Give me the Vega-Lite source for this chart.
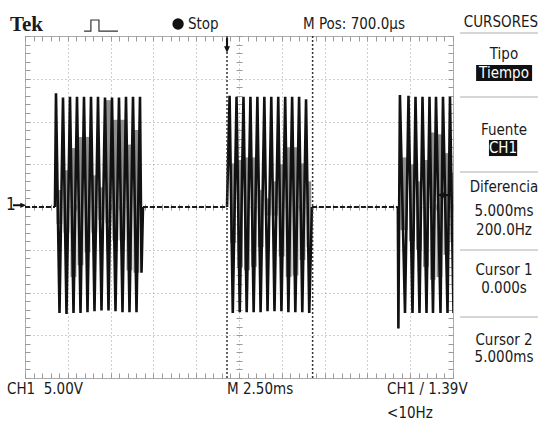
{
  "$schema": "https://vega.github.io/schema/vega-lite/v6.json",
  "width": 428,
  "height": 342,
  "autosize": {"type": "none"},
  "padding": {"left": 25, "top": 36, "right": 89, "bottom": 44},
  "background": "white",
  "config": {
    "view": {"stroke": "#b0b0b0", "strokeWidth": 1},
    "axis": {"labels": false, "domain": false, "ticks": false, "grid": false, "title": null},
    "text": {"font": "DejaVu Sans Condensed", "fontSize": 15, "color": "#1a1a1a"}
  },
  "resolve": {"axis": {"x": "independent", "y": "independent"}},
  "datasets": {
    "fill": [
      {"b": 1, "t": -9.96, "t1": -9.62, "v": 2.0, "v2": -2.0},
      {"b": 1, "t": -9.55, "t1": -9.21, "v": 4.3, "v2": -3.0},
      {"b": 1, "t": -9.14, "t1": -8.80, "v": 6.9, "v2": -8.2},
      {"b": 1, "t": -8.73, "t1": -8.39, "v": 8.2, "v2": -6.8},
      {"b": 1, "t": -8.32, "t1": -7.98, "v": 8.2, "v2": -5.3},
      {"b": 1, "t": -7.92, "t1": -7.58, "v": 3.7, "v2": -3.0},
      {"b": 1, "t": -7.51, "t1": -7.17, "v": 2.3, "v2": -1.5},
      {"b": 1, "t": -7.10, "t1": -6.76, "v": 12.5, "v2": -1.9},
      {"b": 1, "t": -6.69, "t1": -6.35, "v": 10.2, "v2": -3.9},
      {"b": 1, "t": -6.28, "t1": -5.94, "v": 10.2, "v2": -3.9},
      {"b": 1, "t": -5.87, "t1": -5.53, "v": 7.3, "v2": -7.4},
      {"b": 1, "t": -5.46, "t1": -5.12, "v": 9.0, "v2": -7.7},
      {"b": 2, "t": 0.18, "t1": 0.52, "v": 5.1, "v2": -4.2},
      {"b": 2, "t": 0.59, "t1": 0.93, "v": 5.5, "v2": -7.0},
      {"b": 2, "t": 0.99, "t1": 1.33, "v": 5.8, "v2": -7.4},
      {"b": 2, "t": 1.40, "t1": 1.74, "v": 5.8, "v2": -7.0},
      {"b": 2, "t": 1.80, "t1": 2.14, "v": 2.0, "v2": -4.7},
      {"b": 2, "t": 2.21, "t1": 2.55, "v": 1.0, "v2": -1.0},
      {"b": 2, "t": 2.62, "t1": 2.96, "v": 3.0, "v2": -1.0},
      {"b": 2, "t": 3.02, "t1": 3.36, "v": 5.0, "v2": -5.8},
      {"b": 2, "t": 3.43, "t1": 3.77, "v": 7.0, "v2": -8.2},
      {"b": 2, "t": 3.83, "t1": 4.17, "v": 7.0, "v2": -8.0},
      {"b": 2, "t": 4.24, "t1": 4.58, "v": 5.1, "v2": -6.2},
      {"b": 2, "t": 4.65, "t1": 4.92, "v": 3.0, "v2": -4.7},
      {"b": 3, "t": 10.13, "t1": 10.55, "v": 5.8, "v2": -2.7},
      {"b": 3, "t": 10.63, "t1": 10.97, "v": 5.0, "v2": -4.0},
      {"b": 3, "t": 11.04, "t1": 11.38, "v": 3.0, "v2": -5.0},
      {"b": 3, "t": 11.45, "t1": 11.79, "v": 5.5, "v2": -7.0},
      {"b": 3, "t": 11.86, "t1": 12.18, "v": 8.7, "v2": -8.5},
      {"b": 3, "t": 12.24, "t1": 12.58, "v": 8.5, "v2": -8.2},
      {"b": 3, "t": 12.65, "t1": 12.99, "v": 6.3, "v2": -5.6},
      {"b": 3, "t": 13.05, "t1": 13.2, "v": 4.0, "v2": -4.0}
    ],
    "trace": [
      {"b": 1, "t": -10.05, "v": 0}, {"b": 1, "t": -9.99, "v": 13.3}, {"b": 1, "t": -9.785, "v": -12.4},
      {"b": 1, "t": -9.58, "v": 12.8}, {"b": 1, "t": -9.376, "v": -12.5}, {"b": 1, "t": -9.172, "v": 12.9},
      {"b": 1, "t": -8.967, "v": -12.4}, {"b": 1, "t": -8.763, "v": 12.9}, {"b": 1, "t": -8.558, "v": -12.4},
      {"b": 1, "t": -8.354, "v": 12.9}, {"b": 1, "t": -8.149, "v": -12.3}, {"b": 1, "t": -7.945, "v": 12.9},
      {"b": 1, "t": -7.741, "v": -12.2}, {"b": 1, "t": -7.536, "v": 12.9}, {"b": 1, "t": -7.332, "v": -12.1},
      {"b": 1, "t": -7.127, "v": 12.8}, {"b": 1, "t": -6.923, "v": -12.1}, {"b": 1, "t": -6.718, "v": 12.8},
      {"b": 1, "t": -6.514, "v": -12.2}, {"b": 1, "t": -6.31, "v": 12.8}, {"b": 1, "t": -6.105, "v": -12.3},
      {"b": 1, "t": -5.901, "v": 12.9}, {"b": 1, "t": -5.696, "v": -12.3}, {"b": 1, "t": -5.492, "v": 12.9},
      {"b": 1, "t": -5.287, "v": -12.3}, {"b": 1, "t": -5.083, "v": 12.9}, {"b": 1, "t": -4.995, "v": -7.7},
      {"b": 1, "t": -4.908, "v": 0},
      {"b": 2, "t": 0.0, "v": 0}, {"b": 2, "t": 0.15, "v": 13.0}, {"b": 2, "t": 0.337, "v": -12.4},
      {"b": 2, "t": 0.556, "v": 12.9}, {"b": 2, "t": 0.743, "v": -12.3}, {"b": 2, "t": 0.962, "v": 12.9},
      {"b": 2, "t": 1.149, "v": -12.3}, {"b": 2, "t": 1.368, "v": 12.9}, {"b": 2, "t": 1.555, "v": -12.3},
      {"b": 2, "t": 1.774, "v": 12.9}, {"b": 2, "t": 1.961, "v": -12.3}, {"b": 2, "t": 2.18, "v": 12.9},
      {"b": 2, "t": 2.367, "v": -12.2}, {"b": 2, "t": 2.586, "v": 12.9}, {"b": 2, "t": 2.773, "v": -12.2},
      {"b": 2, "t": 2.992, "v": 12.9}, {"b": 2, "t": 3.179, "v": -12.2}, {"b": 2, "t": 3.398, "v": 12.9},
      {"b": 2, "t": 3.585, "v": -12.3}, {"b": 2, "t": 3.804, "v": 12.9}, {"b": 2, "t": 3.991, "v": -12.3},
      {"b": 2, "t": 4.21, "v": 12.9}, {"b": 2, "t": 4.397, "v": -12.3}, {"b": 2, "t": 4.616, "v": 12.6},
      {"b": 2, "t": 4.803, "v": -12.4}, {"b": 2, "t": 4.96, "v": 0},
      {"b": 3, "t": 9.98, "v": 0}, {"b": 3, "t": 10.01, "v": -14.2}, {"b": 3, "t": 10.10, "v": 13.1},
      {"b": 3, "t": 10.396, "v": -12.4}, {"b": 3, "t": 10.60, "v": 13.0}, {"b": 3, "t": 10.834, "v": -12.4},
      {"b": 3, "t": 11.01, "v": 12.9}, {"b": 3, "t": 11.243, "v": -12.4}, {"b": 3, "t": 11.418, "v": 12.9},
      {"b": 3, "t": 11.652, "v": -12.4}, {"b": 3, "t": 11.827, "v": 12.9}, {"b": 3, "t": 12.031, "v": -12.4},
      {"b": 3, "t": 12.207, "v": 12.9}, {"b": 3, "t": 12.47, "v": -12.4}, {"b": 3, "t": 12.615, "v": 12.9},
      {"b": 3, "t": 12.879, "v": -12.4}, {"b": 3, "t": 13.024, "v": 12.9}, {"b": 3, "t": 13.229, "v": -12.4}
    ],
    "base": [
      {"t": -11.8, "t1": -10.05, "v": 0},
      {"t": -4.91, "t1": 0.0, "v": 0},
      {"t": 4.96, "t1": 9.98, "v": 0}
    ],
    "cursors": [{"name": "Cursor 1", "t": 0.0}, {"name": "Cursor 2", "t": 5.0}],
    "trig": [{"t": 0.0, "v": 18.9}],
    "level": [{"t": 12.72, "v": 1.39}],
    "chan": [{"t": -12.12, "v": 0.2}],
    "chanlabel": [{"t": -12.62, "v": 0.2, "label": "1"}],
    "pulse": [
      {"i": 1, "t": -8.35, "v": 20.58}, {"i": 2, "t": -7.95, "v": 20.58}, {"i": 3, "t": -7.95, "v": 21.87},
      {"i": 4, "t": -7.48, "v": 21.87}, {"i": 5, "t": -7.48, "v": 20.58}, {"i": 6, "t": -6.37, "v": 20.58}
    ],
    "stopdot": [{"t": -2.86, "v": 21.4}],
    "tek": [{"t": -12.68, "v": 21.3, "label": "Tek"}],
    "textL": [
      {"t": -2.28, "v": 21.4, "label": "Stop"},
      {"t": 4.44, "v": 21.4, "label": "M Pos: 700.0µs"},
      {"t": -12.85, "v": -21.3, "label": "CH1\u00a0\u00a05.00V"},
      {"t": 0.0, "v": -21.3, "label": "M 2.50ms"},
      {"t": 9.35, "v": -21.3, "label": "CH1 / 1.39V"},
      {"t": 9.35, "v": -24.1, "label": "<10Hz"}
    ],
    "textC": [
      {"t": 16.0, "v": 21.64, "label": "CURSORES"},
      {"t": 16.18, "v": 17.89, "label": "Tipo"},
      {"t": 16.18, "v": 9.01, "label": "Fuente"},
      {"t": 16.18, "v": 2.34, "label": "Diferencia"},
      {"t": 16.18, "v": -0.47, "label": "5.000ms"},
      {"t": 16.18, "v": -2.69, "label": "200.0Hz"},
      {"t": 16.18, "v": -7.37, "label": "Cursor 1"},
      {"t": 16.18, "v": -9.47, "label": "0.000s"},
      {"t": 16.18, "v": -15.56, "label": "Cursor 2"},
      {"t": 16.18, "v": -17.54, "label": "5.000ms"}
    ],
    "boxes": [
      {"t": 14.55, "t1": 17.82, "v": 16.61, "v2": 14.74},
      {"t": 15.3, "t1": 16.95, "v": 7.84, "v2": 5.96}
    ],
    "textW": [
      {"t": 16.18, "v": 15.67, "label": "Tiempo"},
      {"t": 16.12, "v": 6.9, "label": "CH1"}
    ],
    "seps": [
      {"t": 13.61, "t1": 18.16, "v": 20.35},
      {"t": 13.61, "t1": 18.16, "v": 12.87},
      {"t": 13.61, "t1": 18.16, "v": 4.09},
      {"t": 13.61, "t1": 18.16, "v": -5.03},
      {"t": 13.61, "t1": 18.16, "v": -12.87}
    ]
  },
  "layer": [
    {
      "data": {"name": "fill"},
      "mark": {"type": "rect", "color": "#8f8f8f", "clip": true},
      "encoding": {
        "x": {"field": "t", "type": "quantitative", "scale": {"domain": [-11.8, 13.2], "nice": false, "zero": false},
          "axis": {"orient": "bottom", "grid": true, "gridDash": [1, 3], "gridColor": "#a0a0a0", "gridWidth": 1,
            "values": [-11.8, -9.3, -6.8, -4.3, -1.8, 0.7, 3.2, 5.7, 8.2, 10.7, 13.2]}},
        "x2": {"field": "t1"},
        "y": {"field": "v", "type": "quantitative", "scale": {"domain": [-20, 20], "nice": false, "zero": false},
          "axis": {"orient": "left", "grid": true, "gridDash": [1, 3], "gridColor": "#a0a0a0", "gridWidth": 1,
            "values": [-20, -15, -10, -5, 0, 5, 10, 15, 20]}},
        "y2": {"field": "v2"}
      }
    },
    {
      "data": {"name": "base"},
      "mark": {"type": "rule", "color": "#1a1a1a", "strokeWidth": 2, "strokeDash": [5, 2], "clip": true},
      "encoding": {
        "x": {"field": "t", "type": "quantitative", "scale": {"domain": [-11.8, 13.2], "nice": false, "zero": false},
          "axis": {"orient": "top", "ticks": true, "tickSize": 5, "offset": -5, "tickColor": "#9a9a9a",
            "values": [-11.8, -11.3, -10.8, -10.3, -9.8, -9.3, -8.8, -8.3, -7.8, -7.3, -6.8, -6.3, -5.8, -5.3, -4.8, -4.3, -3.8, -3.3, -2.8, -2.3, -1.8, -1.3, -0.8, -0.3, 0.2, 0.7, 1.2, 1.7, 2.2, 2.7, 3.2, 3.7, 4.2, 4.7, 5.2, 5.7, 6.2, 6.7, 7.2, 7.7, 8.2, 8.7, 9.2, 9.7, 10.2, 10.7, 11.2, 11.7, 12.2, 12.7, 13.2]}},
        "x2": {"field": "t1"},
        "y": {"field": "v", "type": "quantitative", "scale": {"domain": [-20, 20], "nice": false, "zero": false},
          "axis": {"orient": "right", "ticks": true, "tickSize": 5, "offset": -5, "tickColor": "#9a9a9a",
            "values": [-20, -19, -18, -17, -16, -15, -14, -13, -12, -11, -10, -9, -8, -7, -6, -5, -4, -3, -2, -1, 0, 1, 2, 3, 4, 5, 6, 7, 8, 9, 10, 11, 12, 13, 14, 15, 16, 17, 18, 19, 20]}}
      }
    },
    {
      "data": {"name": "trace"},
      "mark": {"type": "line", "color": "#111111", "strokeWidth": 2.6, "clip": true},
      "encoding": {
        "x": {"field": "t", "type": "quantitative", "scale": {"domain": [-11.8, 13.2], "nice": false, "zero": false},
          "axis": {"orient": "bottom", "ticks": true, "tickSize": 5, "offset": -5, "tickColor": "#9a9a9a",
            "values": [-11.8, -11.3, -10.8, -10.3, -9.8, -9.3, -8.8, -8.3, -7.8, -7.3, -6.8, -6.3, -5.8, -5.3, -4.8, -4.3, -3.8, -3.3, -2.8, -2.3, -1.8, -1.3, -0.8, -0.3, 0.2, 0.7, 1.2, 1.7, 2.2, 2.7, 3.2, 3.7, 4.2, 4.7, 5.2, 5.7, 6.2, 6.7, 7.2, 7.7, 8.2, 8.7, 9.2, 9.7, 10.2, 10.7, 11.2, 11.7, 12.2, 12.7, 13.2]}},
        "y": {"field": "v", "type": "quantitative", "scale": {"domain": [-20, 20], "nice": false, "zero": false},
          "axis": {"orient": "left", "ticks": true, "tickSize": 5, "offset": -5, "tickColor": "#9a9a9a",
            "values": [-20, -19, -18, -17, -16, -15, -14, -13, -12, -11, -10, -9, -8, -7, -6, -5, -4, -3, -2, -1, 0, 1, 2, 3, 4, 5, 6, 7, 8, 9, 10, 11, 12, 13, 14, 15, 16, 17, 18, 19, 20]}},
        "detail": {"field": "b", "type": "nominal"}
      }
    },
    {
      "data": {"name": "cursors"},
      "mark": {"type": "rule", "color": "#333333", "strokeWidth": 1.5, "strokeDash": [2, 2]},
      "encoding": {
        "x": {"field": "t", "type": "quantitative", "scale": {"domain": [-11.8, 13.2], "nice": false, "zero": false}, "axis": null}
      }
    },
    {
      "data": {"name": "trig"},
      "mark": {"type": "point", "shape": "arrow", "angle": 180, "filled": true, "color": "#111111", "size": 220, "opacity": 1},
      "encoding": {
        "x": {"field": "t", "type": "quantitative", "scale": {"domain": [-11.8, 13.2], "nice": false, "zero": false},
          "axis": {"orient": "bottom", "ticks": true, "tickSize": 6, "offset": -174, "tickColor": "#9a9a9a",
            "values": [-11.8, -11.3, -10.8, -10.3, -9.8, -9.3, -8.8, -8.3, -7.8, -7.3, -6.8, -6.3, -5.8, -5.3, -4.8, -4.3, -3.8, -3.3, -2.8, -2.3, -1.8, -1.3, -0.8, -0.3, 0.2, 0.7, 1.2, 1.7, 2.2, 2.7, 3.2, 3.7, 4.2, 4.7, 5.2, 5.7, 6.2, 6.7, 7.2, 7.7, 8.2, 8.7, 9.2, 9.7, 10.2, 10.7, 11.2, 11.7, 12.2, 12.7, 13.2]}},
        "y": {"field": "v", "type": "quantitative", "scale": {"domain": [-20, 20], "nice": false, "zero": false},
          "axis": {"orient": "left", "ticks": true, "tickSize": 6, "offset": -217, "tickColor": "#9a9a9a",
            "values": [-20, -19, -18, -17, -16, -15, -14, -13, -12, -11, -10, -9, -8, -7, -6, -5, -4, -3, -2, -1, 0, 1, 2, 3, 4, 5, 6, 7, 8, 9, 10, 11, 12, 13, 14, 15, 16, 17, 18, 19, 20]}}
      }
    },
    {
      "data": {"name": "level"},
      "mark": {"type": "point", "shape": "arrow", "angle": 270, "filled": true, "color": "#111111", "size": 220, "opacity": 1},
      "encoding": {
        "x": {"field": "t", "type": "quantitative", "scale": {"domain": [-11.8, 13.2], "nice": false, "zero": false}, "axis": null},
        "y": {"field": "v", "type": "quantitative", "scale": {"domain": [-20, 20], "nice": false, "zero": false}, "axis": null}
      }
    },
    {
      "data": {"name": "chan"},
      "mark": {"type": "point", "shape": "arrow", "angle": 90, "filled": true, "color": "#111111", "size": 170, "opacity": 1},
      "encoding": {
        "x": {"field": "t", "type": "quantitative", "scale": {"domain": [-11.8, 13.2], "nice": false, "zero": false}, "axis": null},
        "y": {"field": "v", "type": "quantitative", "scale": {"domain": [-20, 20], "nice": false, "zero": false}, "axis": null}
      }
    },
    {
      "data": {"name": "chanlabel"},
      "mark": {"type": "text", "fontSize": 17, "align": "center", "baseline": "middle"},
      "encoding": {
        "x": {"field": "t", "type": "quantitative", "scale": {"domain": [-11.8, 13.2], "nice": false, "zero": false}, "axis": null},
        "y": {"field": "v", "type": "quantitative", "scale": {"domain": [-20, 20], "nice": false, "zero": false}, "axis": null},
        "text": {"field": "label"}
      }
    },
    {
      "data": {"name": "pulse"},
      "mark": {"type": "line", "color": "#333333", "strokeWidth": 1.2},
      "encoding": {
        "x": {"field": "t", "type": "quantitative", "scale": {"domain": [-11.8, 13.2], "nice": false, "zero": false}, "axis": null},
        "y": {"field": "v", "type": "quantitative", "scale": {"domain": [-20, 20], "nice": false, "zero": false}, "axis": null},
        "order": {"field": "i", "type": "quantitative"}
      }
    },
    {
      "data": {"name": "stopdot"},
      "mark": {"type": "point", "shape": "circle", "filled": true, "color": "#111111", "size": 130, "opacity": 1},
      "encoding": {
        "x": {"field": "t", "type": "quantitative", "scale": {"domain": [-11.8, 13.2], "nice": false, "zero": false}, "axis": null},
        "y": {"field": "v", "type": "quantitative", "scale": {"domain": [-20, 20], "nice": false, "zero": false}, "axis": null}
      }
    },
    {
      "data": {"name": "tek"},
      "mark": {"type": "text", "font": "Liberation Serif", "fontWeight": "bold", "fontSize": 21, "align": "left", "baseline": "middle"},
      "encoding": {
        "x": {"field": "t", "type": "quantitative", "scale": {"domain": [-11.8, 13.2], "nice": false, "zero": false}, "axis": null},
        "y": {"field": "v", "type": "quantitative", "scale": {"domain": [-20, 20], "nice": false, "zero": false}, "axis": null},
        "text": {"field": "label"}
      }
    },
    {
      "data": {"name": "textL"},
      "mark": {"type": "text", "align": "left", "baseline": "middle"},
      "encoding": {
        "x": {"field": "t", "type": "quantitative", "scale": {"domain": [-11.8, 13.2], "nice": false, "zero": false}, "axis": null},
        "y": {"field": "v", "type": "quantitative", "scale": {"domain": [-20, 20], "nice": false, "zero": false}, "axis": null},
        "text": {"field": "label"}
      }
    },
    {
      "data": {"name": "textC"},
      "mark": {"type": "text", "align": "center", "baseline": "middle"},
      "encoding": {
        "x": {"field": "t", "type": "quantitative", "scale": {"domain": [-11.8, 13.2], "nice": false, "zero": false}, "axis": null},
        "y": {"field": "v", "type": "quantitative", "scale": {"domain": [-20, 20], "nice": false, "zero": false}, "axis": null},
        "text": {"field": "label"}
      }
    },
    {
      "data": {"name": "seps"},
      "mark": {"type": "rule", "color": "#c8c8c8", "strokeWidth": 1.5},
      "encoding": {
        "x": {"field": "t", "type": "quantitative", "scale": {"domain": [-11.8, 13.2], "nice": false, "zero": false}, "axis": null},
        "x2": {"field": "t1"},
        "y": {"field": "v", "type": "quantitative", "scale": {"domain": [-20, 20], "nice": false, "zero": false}, "axis": null}
      }
    },
    {
      "data": {"name": "boxes"},
      "mark": {"type": "rect", "color": "#111111"},
      "encoding": {
        "x": {"field": "t", "type": "quantitative", "scale": {"domain": [-11.8, 13.2], "nice": false, "zero": false}, "axis": null},
        "x2": {"field": "t1"},
        "y": {"field": "v", "type": "quantitative", "scale": {"domain": [-20, 20], "nice": false, "zero": false}, "axis": null},
        "y2": {"field": "v2"}
      }
    },
    {
      "data": {"name": "textW"},
      "mark": {"type": "text", "align": "center", "baseline": "middle", "color": "white"},
      "encoding": {
        "x": {"field": "t", "type": "quantitative", "scale": {"domain": [-11.8, 13.2], "nice": false, "zero": false}, "axis": null},
        "y": {"field": "v", "type": "quantitative", "scale": {"domain": [-20, 20], "nice": false, "zero": false}, "axis": null},
        "text": {"field": "label"}
      }
    }
  ]
}
